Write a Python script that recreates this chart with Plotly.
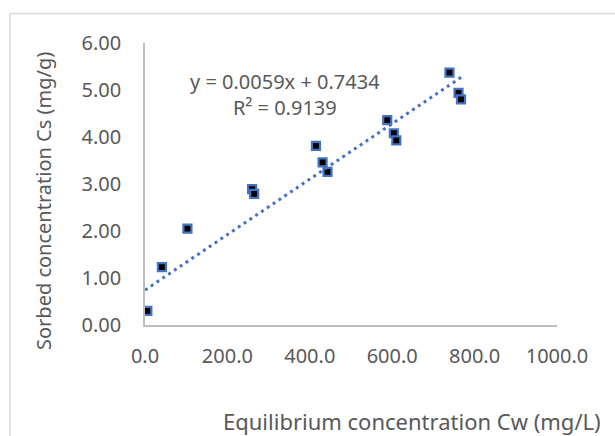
import numpy as np
import plotly.graph_objects as go

# Data
cw = [5.7, 41, 103, 260, 265, 415, 431, 443, 588, 604, 610, 739, 761, 767]
cs = [0.30, 1.23, 2.05, 2.89, 2.79, 3.81, 3.46, 3.26, 4.36, 4.08, 3.93, 5.37, 4.94, 4.80]
slope = 0.0059
intercept = 0.7434
r2 = 0.9139
x_ticks = [0, 200, 400, 600, 800, 1000]
y_ticks = [0, 1, 2, 3, 4, 5, 6]

W, H = 615, 436
L, R, T, B = 145, 58, 43, 111
pw, ph = W - L - R, H - T - B


def px(xp):
    return (xp - L) / pw


def py(yp):
    return (H - B - yp) / ph


FONT = "Noto Sans"
GREY = "#595959"
BLUE = "#4472C4"

trend_x = np.array([0.0, max(cw) + 5])
trend_y = slope * trend_x + intercept

fig = go.Figure()
fig.add_trace(go.Scatter(
    x=cw, y=cs, mode="markers",
    marker=dict(symbol="square", size=8, color="black",
                line=dict(color=BLUE, width=2.2)),
    showlegend=False, hoverinfo="skip"))
fig.add_trace(go.Scatter(
    x=trend_x, y=trend_y, mode="lines",
    line=dict(color=BLUE, width=3, dash="3px,4px"),
    showlegend=False, hoverinfo="skip"))

fig.update_layout(
    width=W, height=H,
    margin=dict(l=L, r=R, t=T, b=B),
    paper_bgcolor="white", plot_bgcolor="white",
    font=dict(family=FONT, size=20, color=GREY),
    xaxis=dict(range=[0, 1000], tickvals=x_ticks,
               ticktext=[f"{v:.1f}" for v in x_ticks],
               showgrid=False, zeroline=False,
               showline=True, linecolor="#BFBFBF", linewidth=1.5,
               ticks="outside", ticklen=12, tickcolor="rgba(0,0,0,0)",
               tickfont=dict(family=FONT, size=20, color=GREY)),
    yaxis=dict(range=[0, 6], tickvals=y_ticks,
               ticktext=[f"{v:.2f}" for v in y_ticks],
               showgrid=False, zeroline=False,
               showline=True, linecolor="#BFBFBF", linewidth=1.5,
               ticks="outside", ticklen=18, tickcolor="rgba(0,0,0,0)",
               tickfont=dict(family=FONT, size=20, color=GREY)),
    shapes=[
        dict(type="line", xref="paper", yref="paper",
             x0=px(10), x1=px(W + 5), y0=py(13.5), y1=py(13.5),
             line=dict(color="#D9D9D9", width=1.5)),
        dict(type="line", xref="paper", yref="paper",
             x0=px(10), x1=px(10), y0=py(13.5), y1=py(H + 5),
             line=dict(color="#D9D9D9", width=1.5)),
    ],
    annotations=[
        dict(text=f"y = {slope}x + {intercept}<br>R² = {r2}",
             xref="paper", yref="paper", x=px(285), y=py(94),
             xanchor="center", yanchor="middle", align="center",
             showarrow=False, font=dict(family=FONT, size=20, color=GREY)),
        dict(text="Equilibrium concentration Cw (mg/L)",
             xref="paper", yref="paper", x=px(412), y=py(421),
             xanchor="center", yanchor="middle",
             showarrow=False, font=dict(family=FONT, size=22, color=GREY)),
        dict(text="Sorbed concentration Cs (mg/g)", textangle=-90,
             xref="paper", yref="paper", x=px(43), y=py(201),
             xanchor="center", yanchor="middle",
             showarrow=False, font=dict(family=FONT, size=20, color=GREY)),
    ],
)

fig.write_html("out.html",
               config={"displayModeBar": False},
               post_script="document.body.style.margin='0';"
                           "document.body.style.overflow='hidden';")
